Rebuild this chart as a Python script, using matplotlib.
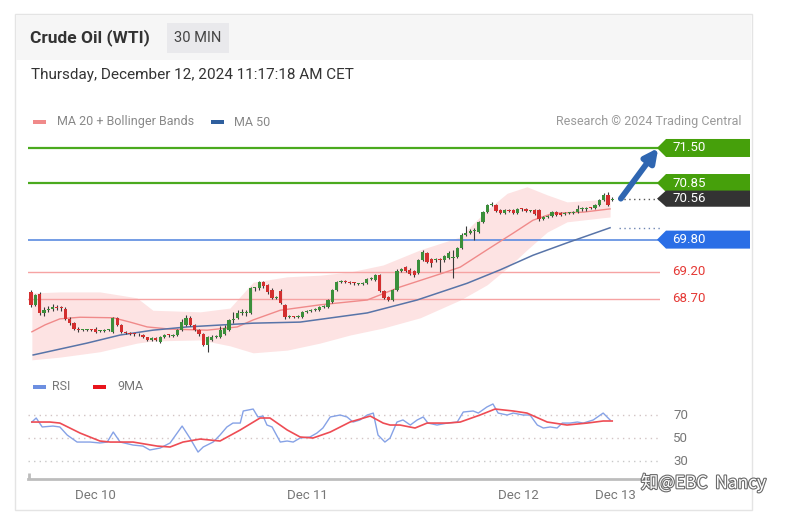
import matplotlib
matplotlib.use("Agg")
import matplotlib.pyplot as plt
import matplotlib.patches as mpatches
import matplotlib.patheffects as pe
import numpy as np

plt.rcParams['font.family'] = ['Roboto', 'DejaVu Sans']

# ---- data: 30 min candles of WTI ----
opens = [68.83, 68.59, 68.80, 68.44, 68.49, 68.52, 68.55, 68.53, 68.52, 68.33,
         68.25, 68.15, 68.12, 68.12, 68.13, 68.15, 68.10, 68.11, 68.12, 68.09,
         68.35, 68.22, 68.09, 68.07, 68.05, 68.04, 68.03, 67.99, 67.94, 67.97,
         67.90, 67.99, 68.03, 68.02, 68.03, 68.12, 68.22, 68.35, 68.22, 68.12,
         68.05, 67.85, 67.94, 68.00, 67.99, 68.05, 68.12, 68.31, 68.35, 68.44,
         68.44, 68.44, 68.90, 68.90, 69.01, 68.96, 68.87, 68.72, 68.85, 68.59,
         68.36, 68.37, 68.36, 68.36, 68.45, 68.47, 68.49, 68.49, 68.55, 68.55,
         68.65, 68.87, 69.01, 69.03, 69.01, 68.99, 68.98, 68.98, 69.00, 69.07,
         69.05, 69.14, 68.84, 68.74, 68.68, 68.86, 69.22, 69.29, 69.24, 69.22,
         69.18, 69.42, 69.55, 69.44, 69.42, 69.43, 69.42, 69.46, 69.46, 69.47,
         69.64, 69.89, 69.92, 69.96, 69.94, 70.13, 70.31, 70.44, 70.44, 70.35,
         70.29, 70.35, 70.35, 70.30, 70.37, 70.36, 70.33, 70.35, 70.35, 70.18,
         70.22, 70.24, 70.31, 70.30, 70.27, 70.29, 70.30, 70.32, 70.37, 70.36,
         70.39, 70.38, 70.44, 70.54, 70.63, 70.53]
closes = [68.59, 68.77, 68.44, 68.49, 68.52, 68.55, 68.53, 68.52, 68.33, 68.25,
          68.15, 68.12, 68.12, 68.13, 68.12, 68.09, 68.11, 68.12, 68.12, 68.35,
          68.22, 68.09, 68.07, 68.05, 68.04, 68.03, 67.99, 67.94, 67.97, 67.94,
          67.99, 68.03, 68.02, 68.03, 68.12, 68.28, 68.35, 68.22, 68.12, 68.05,
          67.85, 67.99, 68.00, 68.00, 68.12, 68.16, 68.31, 68.33, 68.44, 68.44,
          68.44, 68.90, 68.90, 69.01, 68.94, 68.83, 68.72, 68.74, 68.62, 68.36,
          68.37, 68.36, 68.37, 68.45, 68.47, 68.49, 68.51, 68.55, 68.55, 68.68,
          68.87, 69.01, 69.03, 69.01, 68.99, 68.98, 68.98, 69.00, 69.07, 69.07,
          69.14, 68.84, 68.72, 68.68, 68.86, 69.22, 69.26, 69.22, 69.17, 69.14,
          69.42, 69.57, 69.39, 69.37, 69.43, 69.42, 69.50, 69.55, 69.46, 69.64,
          69.89, 69.92, 69.96, 69.98, 70.13, 70.31, 70.44, 70.46, 70.33, 70.29,
          70.35, 70.33, 70.30, 70.37, 70.36, 70.33, 70.33, 70.28, 70.18, 70.22,
          70.24, 70.31, 70.26, 70.26, 70.29, 70.30, 70.32, 70.37, 70.37, 70.39,
          70.38, 70.44, 70.54, 70.63, 70.44, 70.56]
highs = [68.87, 68.80, 68.83, 68.55, 68.57, 68.60, 68.58, 68.57, 68.55, 68.36,
         68.28, 68.17, 68.15, 68.15, 68.14, 68.17, 68.13, 68.14, 68.14, 68.37,
         68.37, 68.24, 68.11, 68.09, 68.07, 68.06, 68.05, 68.00, 67.99, 67.99,
         68.01, 68.05, 68.05, 68.05, 68.14, 68.33, 68.40, 68.38, 68.24, 68.14,
         68.07, 68.01, 68.03, 68.03, 68.20, 68.22, 68.33, 68.45, 68.50, 68.52,
         68.50, 68.93, 68.93, 69.03, 69.03, 68.98, 68.90, 68.76, 68.88, 68.61,
         68.40, 68.39, 68.40, 68.48, 68.49, 68.51, 68.53, 68.57, 68.58, 68.70,
         68.89, 69.03, 69.05, 69.05, 69.03, 69.01, 69.00, 69.02, 69.09, 69.10,
         69.17, 69.16, 68.86, 68.76, 68.88, 69.25, 69.28, 69.31, 69.27, 69.24,
         69.44, 69.60, 69.57, 69.46, 69.46, 69.46, 69.52, 69.58, 69.60, 69.66,
         69.92, 70.05, 70.00, 70.02, 70.15, 70.33, 70.47, 70.49, 70.47, 70.37,
         70.37, 70.37, 70.37, 70.39, 70.39, 70.38, 70.35, 70.37, 70.37, 70.24,
         70.26, 70.33, 70.33, 70.32, 70.31, 70.32, 70.34, 70.44, 70.40, 70.41,
         70.41, 70.46, 70.56, 70.66, 70.68, 70.59]
lows = [68.55, 68.57, 68.40, 68.38, 68.45, 68.48, 68.49, 68.48, 68.31, 68.22,
        68.12, 68.09, 68.10, 68.10, 68.10, 68.07, 68.08, 68.09, 68.10, 68.07,
        68.20, 68.07, 68.05, 68.03, 68.02, 68.01, 67.97, 67.92, 67.92, 67.92,
        67.88, 67.98, 68.00, 68.00, 68.01, 68.10, 68.20, 68.20, 68.10, 68.02,
        67.83, 67.72, 67.92, 67.97, 67.97, 68.03, 68.10, 68.25, 68.33, 68.40,
        68.38, 68.42, 68.85, 68.87, 68.90, 68.80, 68.70, 68.70, 68.60, 68.33,
        68.34, 68.34, 68.34, 68.34, 68.44, 68.46, 68.48, 68.47, 68.53, 68.53,
        68.63, 68.85, 68.99, 68.99, 68.97, 68.96, 68.96, 68.96, 68.98, 69.05,
        69.03, 68.82, 68.70, 68.66, 68.66, 68.84, 69.20, 69.20, 69.15, 69.10,
        69.16, 69.40, 69.37, 69.30, 69.38, 69.20, 69.38, 69.44, 69.09, 69.45,
        69.62, 69.87, 69.90, 69.79, 69.92, 70.11, 70.29, 70.42, 70.31, 70.27,
        70.27, 70.31, 70.28, 70.28, 70.34, 70.31, 70.31, 70.26, 70.15, 70.16,
        70.20, 70.22, 70.24, 70.24, 70.25, 70.27, 70.28, 70.30, 70.34, 70.34,
        70.36, 70.36, 70.42, 70.52, 70.42, 70.51]

# MA 20 and Bollinger bands (x in candle index)
ma20_x = [0.2, 3.3, 6.7, 11.4, 19.1, 23.0, 27.0, 32.3, 40.9, 47.9, 51.6, 57.9,
          67.1, 78.1, 85.7, 95.7, 99.7, 105.9, 112.0, 116.6, 121.3, 128.3, 134.5]
ma20 = [68.09, 68.22, 68.33, 68.36, 68.35, 68.27, 68.18, 68.14, 68.12, 68.18, 68.31, 68.49,
        68.59, 68.68, 68.92, 69.18, 69.29, 69.61, 69.92, 70.16, 70.29, 70.31, 70.37]
band_x = [0.2, 6.7, 16.0, 24.6, 28.3, 39.3, 46.2, 51.6, 59.5, 67.1, 74.1,
          81.8, 90.4, 99.7, 105.9, 110.6, 115.2, 119.9, 124.5, 132.2, 134.5]
band_upper = [68.81, 68.83, 68.83, 68.72, 68.49, 68.46, 68.53, 69.01, 69.11, 69.14, 69.20,
              69.33, 69.61, 69.85, 70.35, 70.66, 70.78, 70.63, 70.50, 70.54, 70.63]
band_lower = [67.57, 67.62, 67.72, 67.88, 67.92, 67.94, 67.83, 67.70, 67.75, 67.88, 68.03,
              68.16, 68.35, 68.68, 68.96, 69.27, 69.61, 69.94, 70.13, 70.20, 70.22]
# MA 50
ma50_x = [0.5, 13.0, 20.7, 28.3, 36.2, 51.6, 62.5, 78.1, 89.7, 101.3, 109.0, 116.6, 124.5, 134.5]
ma50 = [67.66, 67.88, 68.03, 68.12, 68.18, 68.25, 68.27, 68.44, 68.68, 68.99, 69.24, 69.51, 69.74, 70.02]

# key levels
resistances = [71.50, 70.85]
pivot = 69.80
supports = [69.20, 68.70]
target = 71.50

# RSI and its 9 period MA
rsi_x = [0.2, 1.2, 2.6, 5.1, 6.7, 8.4, 10.7, 13.7, 16.0, 17.7, 19.1, 20.7, 23.7, 26.0,
         27.6, 30.0, 32.3, 35.1, 36.9, 38.8, 40.0, 42.3, 43.9, 45.5, 46.9, 48.6, 49.3,
         51.6, 52.7, 53.9, 54.8, 56.0, 57.9, 59.5, 60.9, 62.5, 64.8, 66.4, 67.8, 69.5,
         71.8, 73.4, 74.8, 76.4, 78.1, 79.5, 80.6, 82.2, 83.4, 85.0, 86.4, 88.1, 89.7,
         91.1, 92.2, 94.3, 96.7, 99.0, 100.4, 102.7, 103.9, 105.9, 107.3, 108.5, 110.6,
         112.0, 114.3, 115.9, 117.6, 119.0, 120.6, 122.2, 123.4, 125.2, 126.9, 128.3,
         130.6, 132.9, 134.5]
rsi = [63.9, 67.4, 59.6, 60.4, 59.6, 52.6, 46.5, 46.5, 45.7, 46.5, 55.2, 46.5, 43.9, 43.0,
       39.6, 41.3, 45.7, 60.4, 50.0, 37.8, 42.2, 46.5, 52.6, 59.6, 63.0, 63.0, 73.5,
       75.2, 68.3, 69.1, 61.3, 59.6, 46.5, 47.4, 46.5, 50.0, 50.9, 54.3, 58.7, 68.3,
       70.0, 68.3, 63.9, 65.7, 70.0, 71.7, 52.6, 46.5, 50.0, 63.9, 65.7, 61.3, 65.7,
       68.3, 63.0, 61.3, 63.0, 63.9, 72.6, 73.5, 71.7, 77.0, 79.6, 71.7, 70.0,
       71.7, 70.0, 70.0, 61.3, 58.7, 59.6, 58.7, 63.0, 63.0, 63.9, 63.0,
       65.7, 71.7, 65.7]
ma9_x = [0.2, 4.4, 6.7, 11.4, 16.0, 18.4, 23.7, 29.3, 32.3, 35.3, 39.3, 43.9, 48.6,
         53.2, 55.5, 59.5, 62.5, 65.5, 69.5, 74.1, 78.8, 81.8, 83.4, 85.7, 89.2, 92.0,
         96.7, 99.7, 104.3, 107.8, 112.0, 115.2, 119.9, 124.5, 129.2, 132.9, 135.0]
ma9 = [63.9, 63.9, 63.0, 54.3, 47.4, 46.5, 46.5, 43.0, 42.2, 46.5, 49.1, 47.4, 57.0,
       67.4, 67.4, 57.0, 50.9, 50.0, 55.2, 63.9, 69.1, 63.0, 61.3, 61.3, 58.7, 63.0,
       63.0, 63.9, 70.0, 75.2, 73.5, 71.7, 63.9, 61.3, 63.0, 64.8, 64.8]
rsi_levels = [70, 50, 30]

date_pos = [14.9, 64.1, 113.2, 135.7]
date_labels = ["Dec 10", "Dec 11", "Dec 12", "Dec 13"]

# ---- layout helpers (pixel -> figure fraction) ----
W, H = 787, 516
def fx(x):
    return x / W
def fy(y):
    return 1 - y / H

fig = plt.figure(figsize=(W / 100, H / 100), dpi=100)

def fig_rect(x0, y0, x1, y1, color, edge='none', z=-10):
    r = mpatches.Rectangle((fx(x0), fy(y1)), (x1 - x0) / W, (y1 - y0) / H,
                           transform=fig.transFigure, facecolor=color,
                           edgecolor=edge, lw=1, zorder=z)
    fig.patches.append(r)

# card + header band
fig_rect(15, 14, 752, 510, 'white', edge='#e4e4e4')
fig_rect(16, 15, 751, 60, '#f6f6f6')
fig_rect(167, 23, 229, 53, '#e9e9ec')
fig.text(fx(30), fy(38), "Crude Oil (WTI)", fontsize=12.5, fontweight='bold',
         color='#333333', va='center')
fig.text(fx(198), fy(38), "30 MIN", fontsize=10.5, color='#444444', va='center', ha='center')
fig.text(fx(31), fy(75), "Thursday, December 12, 2024 11:17:18 AM CET", fontsize=11,
         color='#333333', va='center')

# legends
fig_rect(33, 120, 46, 124, '#f08a8a', z=1)
fig.text(fx(57), fy(122), "MA 20 + Bollinger Bands", fontsize=9, color='#888888', va='center')
fig_rect(211, 120, 224, 124, '#2f5f9e', z=1)
fig.text(fx(234), fy(122), "MA 50", fontsize=9, color='#888888', va='center')
fig.text(fx(742), fy(122), "Research \u00a9 2024 Trading Central", fontsize=9, color='#9a9a9a',
         va='center', ha='right')

fig_rect(33, 385, 46, 389, '#6d8fe0', z=1)
fig.text(fx(52), fy(387), "RSI", fontsize=9, color='#777777', va='center')
fig_rect(93, 385, 106, 389, '#e8141c', z=1)
fig.text(fx(117), fy(387), "9MA", fontsize=9, color='#777777', va='center')

# ---- price panel ----
XMIN, XMAX = -0.70, 146.1
ax = fig.add_axes([fx(28), fy(365), (660 - 28) / W, (365 - 140) / H])
ax.patch.set_visible(False)
ax.set_xlim(XMIN, XMAX)
ax.set_ylim(67.474, 71.648)
for s in ax.spines.values():
    s.set_visible(False)
ax.set_xticks([])
ax.set_yticks([])

ax.fill_between(band_x, band_lower, band_upper, color='#fde3e3', lw=0, zorder=1)

for lvl in resistances:
    ax.axhline(lvl, color='#4aaa1e', lw=1.6, zorder=2)
ax.axhline(pivot, color='#5b8be0', lw=1.2, zorder=2)
for lvl in supports:
    ax.axhline(lvl, color='#f6a3a3', lw=1.0, zorder=2)

ax.plot(ma20_x, ma20, color='#f08a8a', lw=1.0, zorder=3)
ax.plot(ma50_x, ma50, color='#5874a8', lw=1.1, zorder=3)

o = np.array(opens)
c = np.array(closes)
idx = np.arange(len(c))
up = c >= o
ax.vlines(idx, lows, highs, color='#3a3a3a', lw=0.8, zorder=4)
body = np.where(np.abs(c - o) < 0.015, 0.015, c - o)
ax.bar(idx, body, bottom=o, width=0.75, color=np.where(up, '#3b8f3b', '#d32f2f'),
       edgecolor='none', zorder=5)

# dotted extensions of last price and MA 50
ax.hlines(closes[-1], len(c) + 0.5, XMAX, colors='#555555', linestyles=(0, (1, 2.5)), lw=1.0)
ax.hlines(ma50[-1], len(c) + 0.5, XMAX, colors='#6f86b3', linestyles=(0, (1, 2.5)), lw=1.0)

# projection arrow
ax.annotate('', xy=(145.7, target), xytext=(len(c) + 1.0, closes[-1]),
            arrowprops=dict(arrowstyle='-|>', color='#2f66b1', lw=4.2, mutation_scale=20,
                            shrinkA=0, shrinkB=0),
            annotation_clip=False, zorder=6)

# price tags on the right
tr = ax.get_yaxis_transform()
def ax_x(px):
    return (px - 28) / 632.0

def tag(price, color, hh):
    pts = [(ax_x(657), price), (ax_x(666), price + hh), (ax_x(750), price + hh),
           (ax_x(750), price - hh), (ax_x(666), price - hh)]
    ax.add_patch(mpatches.Polygon(pts, closed=True, transform=tr, facecolor=color,
                                  edgecolor='none', clip_on=False, zorder=7))
    ax.text(ax_x(672), price, f"{price:.2f}", transform=tr, color='white', fontsize=9.5,
            va='center', ha='left', clip_on=False, zorder=8)

tag(resistances[0], '#46a00b', 0.167)
tag(resistances[1], '#46a00b', 0.167)
tag(closes[-1], '#333333', 0.150)
tag(pivot, '#2a6ee6', 0.167)
for lvl in supports:
    ax.text(ax_x(672), lvl, f"{lvl:.2f}", transform=tr, color='#e53935', fontsize=9.5,
            va='center', ha='left', clip_on=False)

# ---- RSI panel ----
ax2 = fig.add_axes([fx(28), fy(470), (660 - 28) / W, 75 / H])
ax2.patch.set_visible(False)
ax2.set_xlim(XMIN, XMAX)
ax2.set_ylim(22.2, 87.4)
for k in ['top', 'left', 'right']:
    ax2.spines[k].set_visible(False)
for v in rsi_levels:
    ax2.axhline(v, color='#d2c4c4' if v != 30 else '#c8c8c8', lw=1.0, ls=(0, (1, 3)))
    ax2.text(ax_x(673), v, str(v), transform=ax2.get_yaxis_transform(), fontsize=9.5,
             color='#777777', va='center', ha='left', clip_on=False)
ax2.plot(rsi_x, rsi, color='#86a2e6', lw=1.0)
ax2.plot(ma9_x, ma9, color='#ee4c54', lw=1.2)

ax2.spines['bottom'].set_position(('outward', 6.5))
ax2.spines['bottom'].set_bounds(XMIN, 141.5)
ax2.spines['bottom'].set_color('#bdbdbd')
ax2.spines['bottom'].set_linewidth(2)
ax2.set_yticks([])
ax2.set_xticks(date_pos, date_labels)
ax2.set_xticks([XMIN + 0.2], minor=True)
ax2.tick_params(axis='x', which='major', length=0, pad=7, labelsize=9.5, labelcolor='#777777')
ax2.tick_params(axis='x', which='minor', length=4, width=2, color='#bdbdbd', direction='in')

# watermark
fig.text(fx(641), fy(483), "\u77e5@EBC  Nancy", fontsize=12.5, color='white', va='center',
         family=['Noto Sans CJK SC', 'DejaVu Sans'],
         path_effects=[pe.withStroke(linewidth=1.6, foreground='#6a6a6a')])

fig.savefig("out.png", dpi=100)
